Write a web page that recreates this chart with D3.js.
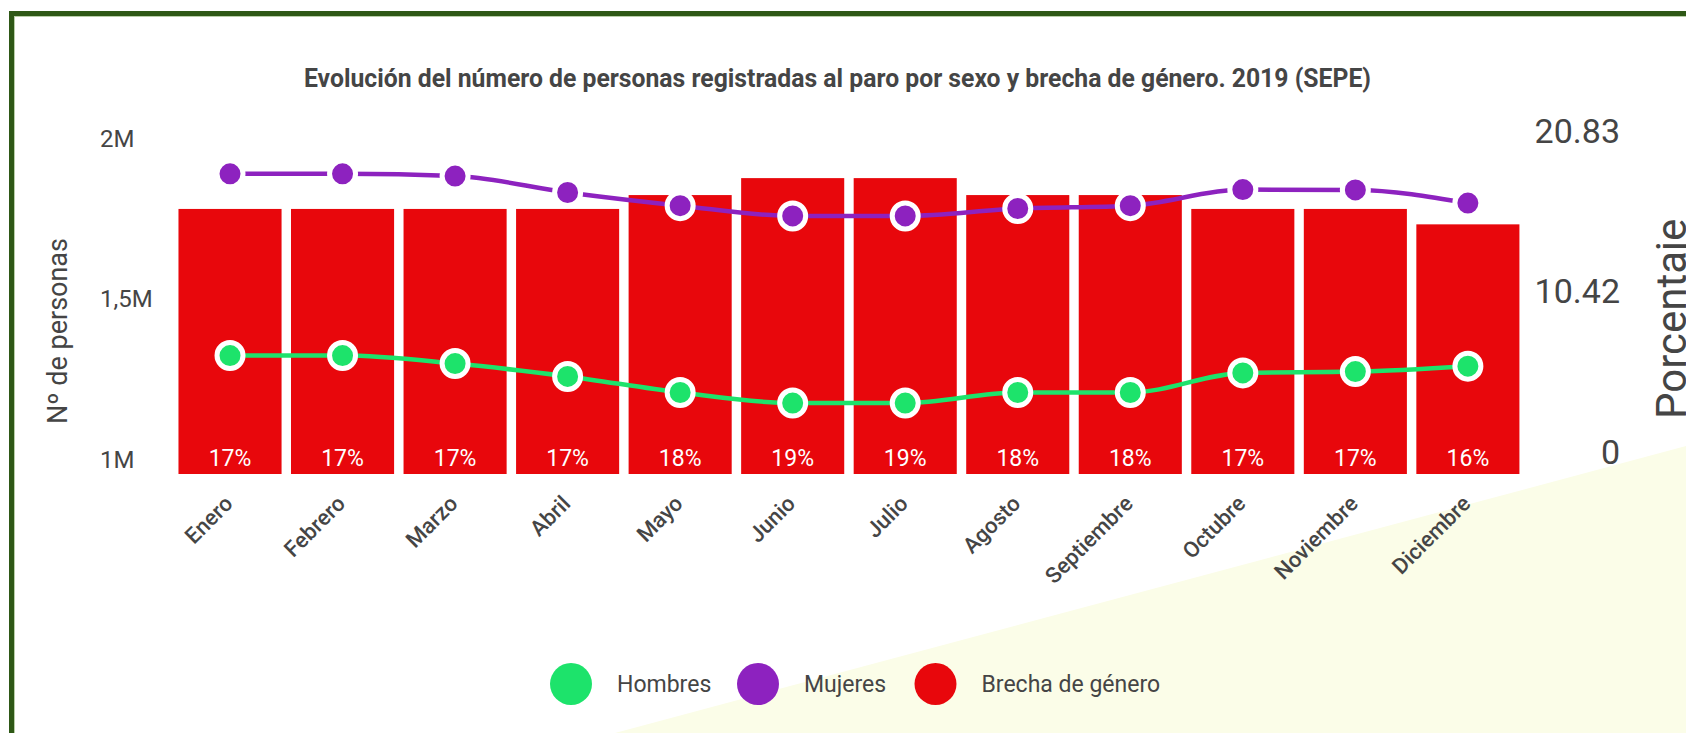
<!DOCTYPE html>
<html lang="es">
<head>
<meta charset="UTF-8">
<script src="https://d3js.org/d3.v7.min.js"></script>
<style>
  body { margin: 0; background: #fff; }
  text { font-family: Roboto, "Noto Sans", sans-serif; fill: #454545; }
</style>
</head>
<body>
<svg id="chart" width="1686" height="733"></svg>
<script>
// Datos
const meses = ["Enero", "Febrero", "Marzo", "Abril", "Mayo", "Junio", "Julio", "Agosto", "Septiembre", "Octubre", "Noviembre", "Diciembre"];
const hombres = [1369000, 1369000, 1344000, 1304000, 1254000, 1221000, 1221000, 1254000, 1254000, 1315000, 1319000, 1336000];
const mujeres = [1935000, 1935000, 1928000, 1877000, 1836000, 1804000, 1804000, 1827000, 1836000, 1886000, 1885000, 1844000];
const brecha = [17.2, 17.2, 17.2, 17.2, 18.1, 19.2, 19.2, 18.1, 18.1, 17.2, 17.2, 16.2];
const ticksIzq = [1000000, 1500000, 2000000];
const etiquetasIzq = ["1M", "1,5M", "2M"];
const ticksDer = [0, 10.42, 20.83];
const series = [
  { nombre: "Hombres", color: "#1de36b" },
  { nombre: "Mujeres", color: "#8d22bf" },
  { nombre: "Brecha de género", color: "#e8070c" }
];

const width = 1686, height = 733;
const svg = d3.select("#chart");

// Fondo: triángulo amarillo claro y marco verde
svg.append("path")
  .attr("d", `M615,${height} L${width},446 L${width},${height} Z`)
  .attr("fill", "#fbfde8");
svg.append("rect")
  .attr("x", 11.5).attr("y", 13.5)
  .attr("width", 2000).attr("height", 2000)
  .attr("fill", "none")
  .attr("stroke", "#2e5816")
  .attr("stroke-width", 5);
svg.append("rect")
  .attr("x", 14.5).attr("y", 16.5)
  .attr("width", 2000).attr("height", 2000)
  .attr("fill", "none")
  .attr("stroke", "#b9cfa8")
  .attr("stroke-width", 1);

// Título
svg.append("text")
  .attr("x", 837.5).attr("y", 87)
  .attr("text-anchor", "middle")
  .attr("textLength", 1067)
  .attr("lengthAdjust", "spacingAndGlyphs")
  .style("font-size", "26px")
  .style("font-weight", "bold")
  .text("Evolución del número de personas registradas al paro por sexo y brecha de género. 2019 (SEPE)");

// Escalas
const x = d3.scaleBand()
  .domain(meses)
  .range([173.75, 1524.15])
  .paddingInner(0.084)
  .paddingOuter(0.042);
const yIzq = d3.scaleLinear().domain([1000000, 2000000]).range([474, 153]);
const yDer = d3.scaleLinear().domain([0, 20.83]).range([474, 153]);

// Eje izquierdo
const ejeIzq = svg.append("g")
  .attr("transform", "translate(100,0)")
  .call(d3.axisRight(yIzq).tickValues(ticksIzq).tickSize(0).tickPadding(0)
    .tickFormat((d, i) => etiquetasIzq[i]));
ejeIzq.select(".domain").remove();
ejeIzq.selectAll("text")
  .attr("dy", null).attr("y", -7)
  .attr("fill", "#454545")
  .style("font-size", "24px");

// Eje derecho
const ejeDer = svg.append("g")
  .attr("transform", "translate(1620,0)")
  .call(d3.axisLeft(yDer).tickValues(ticksDer).tickSize(0).tickPadding(0)
    .tickFormat(d => d));
ejeDer.select(".domain").remove();
ejeDer.selectAll("text")
  .attr("dy", null).attr("y", -11)
  .attr("fill", "#454545")
  .style("font-size", "34px");

// Títulos de ejes
svg.append("text")
  .attr("transform", "translate(67,331) rotate(-90)")
  .attr("text-anchor", "middle")
  .style("font-size", "27px")
  .text("Nº de personas");
svg.append("text")
  .attr("transform", "translate(1686,419) rotate(-90)")
  .attr("text-anchor", "start")
  .style("font-size", "42px")
  .text("Porcentaje");

// Barras de brecha
svg.selectAll(".barra")
  .data(brecha)
  .enter().append("rect")
  .attr("class", "barra")
  .attr("x", (d, i) => x(meses[i]))
  .attr("y", d => yDer(d))
  .attr("width", x.bandwidth())
  .attr("height", d => yDer(0) - yDer(d))
  .attr("fill", series[2].color);

svg.selectAll(".etiqueta")
  .data(brecha)
  .enter().append("text")
  .attr("class", "etiqueta")
  .attr("x", (d, i) => x(meses[i]) + x.bandwidth() / 2)
  .attr("y", 466)
  .attr("text-anchor", "middle")
  .style("font-size", "23px")
  .style("fill", "#fff")
  .text(d => Math.round(d) + "%");

// Etiquetas de meses
svg.selectAll(".mes")
  .data(meses)
  .enter().append("text")
  .attr("class", "mes")
  .attr("transform", d => `translate(${x(d) + x.bandwidth() / 2 + 4},505) rotate(-45)`)
  .attr("text-anchor", "end")
  .style("font-size", "22px")
  .style("font-weight", 500)
  .text(d => d);

// Líneas
const linea = d3.line()
  .x((d, i) => x(meses[i]) + x.bandwidth() / 2)
  .y(d => yIzq(d))
  .curve(d3.curveMonotoneX);

[[mujeres, series[1].color], [hombres, series[0].color]].forEach(([datos, color]) => {
  svg.append("path")
    .datum(datos)
    .attr("d", linea)
    .attr("fill", "none")
    .attr("stroke", color)
    .attr("stroke-width", 4.5);
  svg.append("g").selectAll("circle")
    .data(datos)
    .enter().append("circle")
    .attr("cx", (d, i) => x(meses[i]) + x.bandwidth() / 2)
    .attr("cy", d => yIzq(d))
    .attr("r", 13)
    .attr("fill", color)
    .attr("stroke", "#fff")
    .attr("stroke-width", 5);
});

// Leyenda
const leyendaX = [571, 758, 935.5];
const leyenda = svg.append("g");
series.forEach((s, i) => {
  leyenda.append("circle")
    .attr("cx", leyendaX[i]).attr("cy", 684)
    .attr("r", 21)
    .attr("fill", s.color);
  leyenda.append("text")
    .attr("x", leyendaX[i] + 46).attr("y", 692)
    .style("font-size", "23px")
    .text(s.nombre);
});
</script>
</body>
</html>
